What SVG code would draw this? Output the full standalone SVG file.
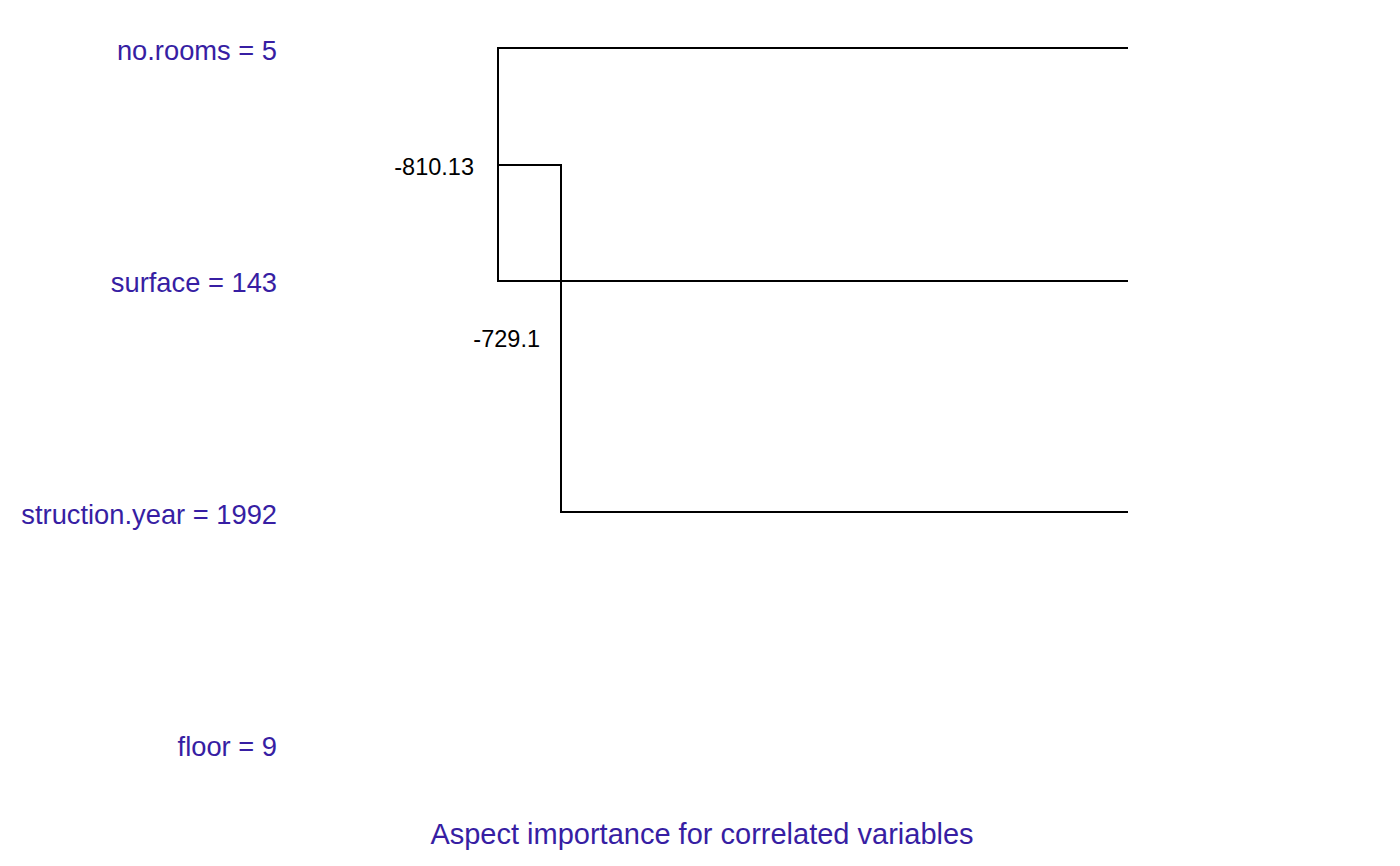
<svg xmlns="http://www.w3.org/2000/svg" width="1400" height="866" viewBox="0 0 1400 866">
<style>
.lab{font-family:"Liberation Sans",Arial,sans-serif;font-size:27.3px;fill:#371EA3;text-anchor:end}
.num{font-family:"Liberation Sans",Arial,sans-serif;font-size:23.5px;fill:#000;text-anchor:end}
.title{font-family:"Liberation Sans",Arial,sans-serif;font-size:29px;fill:#371EA3;text-anchor:middle}
.ln{stroke:#000;stroke-width:2;fill:none;stroke-linecap:square}
</style>
<rect width="1400" height="866" fill="#fff"/>
<g id="connectors">
<path class="ln" d="M498 48 H1127 M498 48 V281 M498 281 H1127 M498 165 H561 M561 165 V512 M561 512 H1127"/>
</g>
<g id="node-no-rooms"><text class="lab" x="277" y="60">no.rooms = 5</text></g>
<g id="node-surface"><text class="lab" x="277" y="292">surface = 143</text></g>
<g id="node-construction-year"><text class="lab" x="277" y="524">struction.year = 1992</text></g>
<g id="node-floor"><text class="lab" x="277" y="756">floor = 9</text></g>
<g id="label-810"><text class="num" x="474" y="175">-810.13</text></g>
<g id="label-729"><text class="num" x="540" y="347">-729.1</text></g>
<g id="title"><text class="title" x="702" y="844">Aspect importance for correlated variables</text></g>
</svg>
